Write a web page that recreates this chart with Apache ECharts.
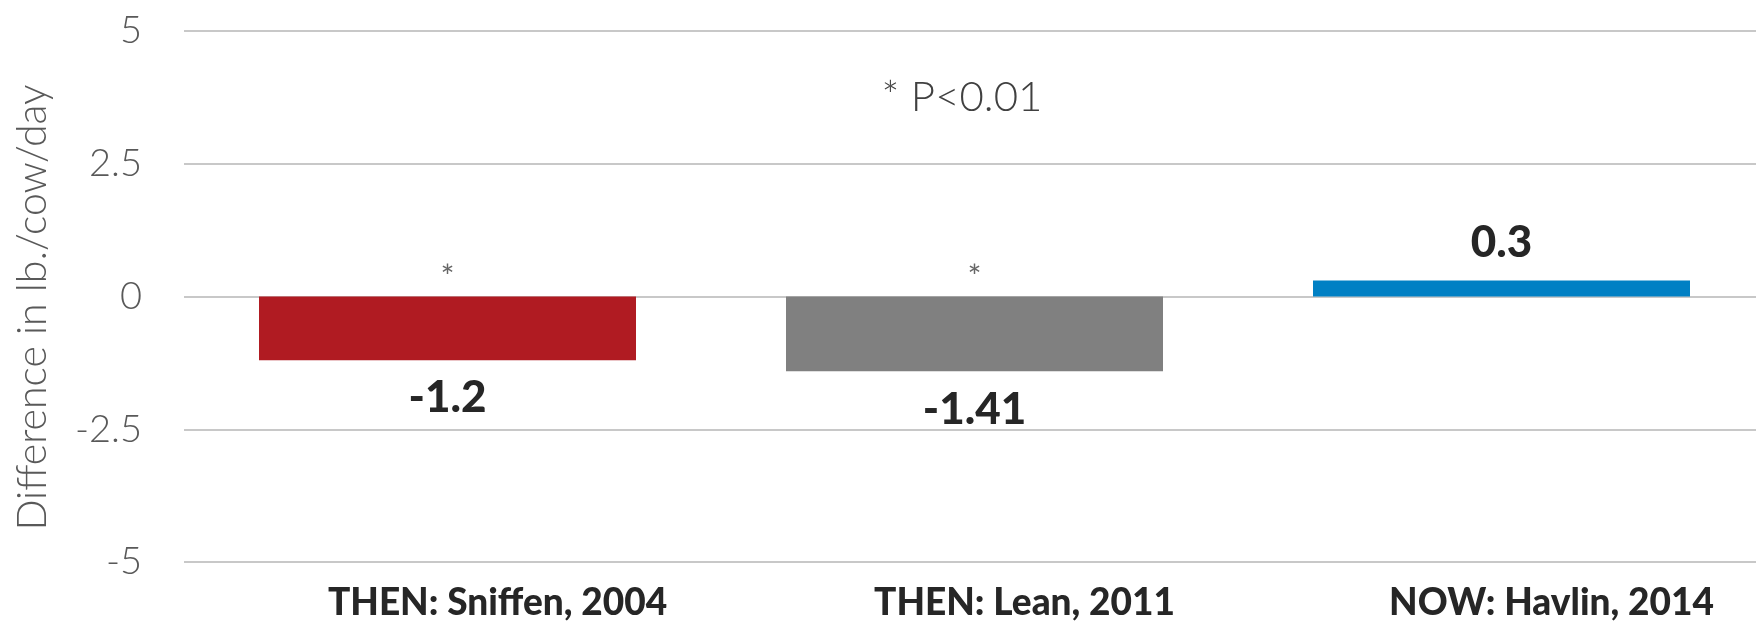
<!DOCTYPE html>
<html>
<head>
<meta charset="utf-8">
<style>
  html, body { margin: 0; padding: 0; background: #ffffff; }
  #chart { width: 1756px; height: 623px; }
</style>
<script src="https://cdn.jsdelivr.net/npm/echarts@6/dist/echarts.min.js"></script>
</head>
<body>
<div id="chart"></div>
<script>
// Studies compared
const categories = ['THEN: Sniffen, 2004', 'THEN: Lean, 2011', 'NOW: Havlin, 2014'];
// Difference in milk yield, lb./cow/day
const values = [-1.2, -1.41, 0.3];
// Significance flags shown above the zero line
const markers = ['*', '*', ''];
const barColors = ['#b01b22', '#808080', '#0080c4'];
// Value axis ticks
const yMin = -5, yMax = 5, yStep = 2.5;
const yAxisTitle = 'Difference in lb./cow/day';
const noteText = '* P<0.01';

const chart = echarts.init(document.getElementById('chart'));

const barData = values.map((v, i) => ({
  value: v,
  itemStyle: { color: barColors[i] },
  label: { position: v < 0 ? 'bottom' : 'top' }
}));

const markerData = markers.map((m, i) => m ? { value: [i, 0], label: { formatter: m } } : null)
  .filter(d => d !== null);

chart.setOption({
  animation: false,
  backgroundColor: '#ffffff',
  grid: { left: 184, right: -9, top: 31, bottom: 61, containLabel: false, outerBoundsMode: 'none' },
  title: {
    text: noteText,
    left: 957, top: 71,
    textAlign: 'center',
    textStyle: { fontFamily: 'Lato', fontWeight: 300, fontSize: 42, color: '#404040' }
  },
  xAxis: {
    type: 'category',
    data: categories,
    axisLine: { show: false },
    axisTick: { show: false },
    axisLabel: {
      interval: 0,
      margin: 23,
      padding: [0, 0, 0, 100],
      fontFamily: 'Lato', fontWeight: 900, fontSize: 37, color: '#262626'
    }
  },
  yAxis: {
    type: 'value',
    min: yMin, max: yMax, interval: yStep,
    name: yAxisTitle,
    nameLocation: 'middle',
    nameGap: 131,
    nameTextStyle: {
      fontFamily: 'Lato', fontWeight: 300, fontSize: 41, color: '#595959',
      padding: [0, 22, 0, 0]
    },
    axisLine: { show: false },
    axisTick: { show: false },
    splitLine: { lineStyle: { color: '#c8c8c8', width: 2 } },
    axisLabel: {
      margin: 42,
      fontFamily: 'Lato', fontWeight: 300, fontSize: 38, color: '#595959'
    }
  },
  series: [
    {
      type: 'bar',
      data: barData,
      barWidth: 377,
      label: {
        show: true,
        distance: 16,
        fontFamily: 'Lato', fontWeight: 900, fontSize: 44, color: '#262626'
      }
    },
    {
      type: 'scatter',
      data: markerData,
      symbolSize: 0,
      silent: true,
      label: {
        show: true,
        position: 'top',
        distance: 3,
        fontFamily: 'Lato', fontSize: 33, color: '#404040'
      }
    }
  ]
});
</script>
</body>
</html>
